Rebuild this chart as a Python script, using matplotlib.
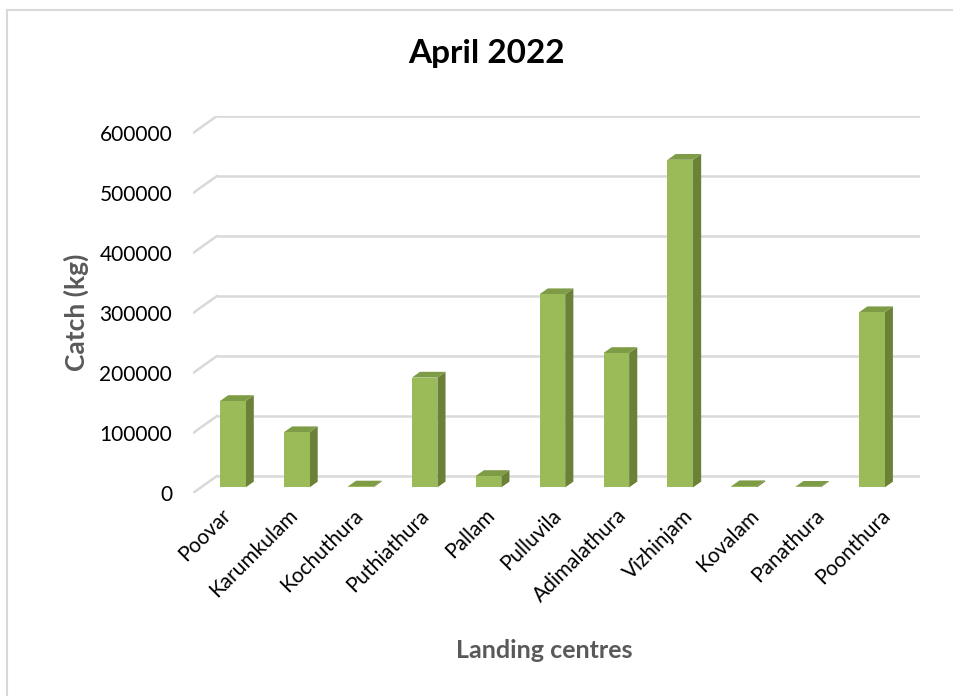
import matplotlib
matplotlib.use("Agg")
import matplotlib.pyplot as plt
from matplotlib.patches import Polygon, Rectangle

plt.rcParams['font.family'] = ['Lato', 'DejaVu Sans']

centres = ["Poovar", "Karumkulam", "Kochuthura", "Puthiathura", "Pallam",
           "Pulluvila", "Adimalathura", "Vizhinjam", "Kovalam", "Panathura",
           "Poonthura"]
catch_kg = [144000, 92000, 1500, 183000, 19000, 322000, 224000, 546000,
            2000, 1000, 292000]
y_ticks = [0, 100000, 200000, 300000, 400000, 500000, 600000]

W, H, DPI = 954, 696, 100
fig = plt.figure(figsize=(W / DPI, H / DPI), dpi=DPI)

# chart border (left and top edges visible)
fig.patches.append(Rectangle((7 / W, -0.1), 1.2, 1.1 - 10 / H,
                             transform=fig.transFigure, fill=False,
                             edgecolor="#D9D9D9", linewidth=1.5, zorder=0))

# oblique depth of the floor, in category / value units
DX = 0.375
DY = 28333
n = len(centres)

left_px, right_px = 193, 920
bottom_px, top_px = 493, 116
ax = fig.add_axes([left_px / W, 1 - bottom_px / H,
                   (right_px - left_px) / W, (bottom_px - top_px) / H])
ax.set_xlim(-0.5, n - 0.5 + DX)
ax.set_ylim(0, y_ticks[-1] + DY)
for s in ax.spines.values():
    s.set_visible(False)

grid_col = "#D9D9D9"
for v in y_ticks:
    # back wall gridline
    ax.plot([-0.5 + DX, n - 0.5 + DX], [v + DY, v + DY], color=grid_col,
            lw=1.8, zorder=1, solid_capstyle="butt")
    # side wall gridline
    ax.plot([-0.5, -0.5 + DX], [v, v + DY], color=grid_col, lw=1.8, zorder=1)

# bars: front, side and top faces
front_c, side_c, top_c = "#9BBB59", "#6B8138", "#7E9C46"
bw = 0.4
a, b = 0.33, 0.34  # depth start and bar depth as fractions of the floor
for i, v in enumerate(catch_kg):
    xl = i - bw / 2 + a * DX
    xr = i + bw / 2 + a * DX
    y0 = a * DY
    ox, oy = b * DX, b * DY
    side = Polygon([(xr, y0), (xr, y0 + v), (xr + ox, y0 + v + oy),
                    (xr + ox, y0 + oy)], closed=True, facecolor=side_c,
                   edgecolor="none", zorder=3)
    top = Polygon([(xl, y0 + v), (xr, y0 + v), (xr + ox, y0 + v + oy),
                   (xl + ox, y0 + v + oy)], closed=True, facecolor=top_c,
                  edgecolor="none", zorder=3)
    ax.add_patch(side)
    ax.add_patch(top)
    ax.bar(xl, v, width=bw, bottom=y0, align="edge", color=front_c,
           edgecolor="none", zorder=4)

ax.set_yticks(y_ticks)
ax.set_yticklabels([str(v) for v in y_ticks], fontsize=15, color="#000000")
ax.tick_params(axis="y", length=0, pad=15)

# category labels follow the projected floor, spreading slightly wider
label_step = 66 / 64
label_pos = [0.05 + i * label_step for i in range(n)]
ax.set_xticks(label_pos)
ax.set_xticklabels(centres, rotation=45, ha="right", va="center",
                   rotation_mode="anchor", fontsize=15, color="#000000")
ax.tick_params(axis="x", length=0, pad=14)

fig.text(486 / W, 1 - 54 / H, "April 2022", ha="center", va="center",
         fontsize=24, fontweight="bold", color="#000000")
fig.text(76 / W, 1 - 312 / H, "Catch (kg)", ha="center", va="center",
         rotation=90, fontsize=19, fontweight="bold", color="#595959")
fig.text(544 / W, 1 - 650 / H, "Landing centres", ha="center", va="center",
         fontsize=18, fontweight="bold", color="#595959")

fig.savefig("out.png", dpi=DPI)
